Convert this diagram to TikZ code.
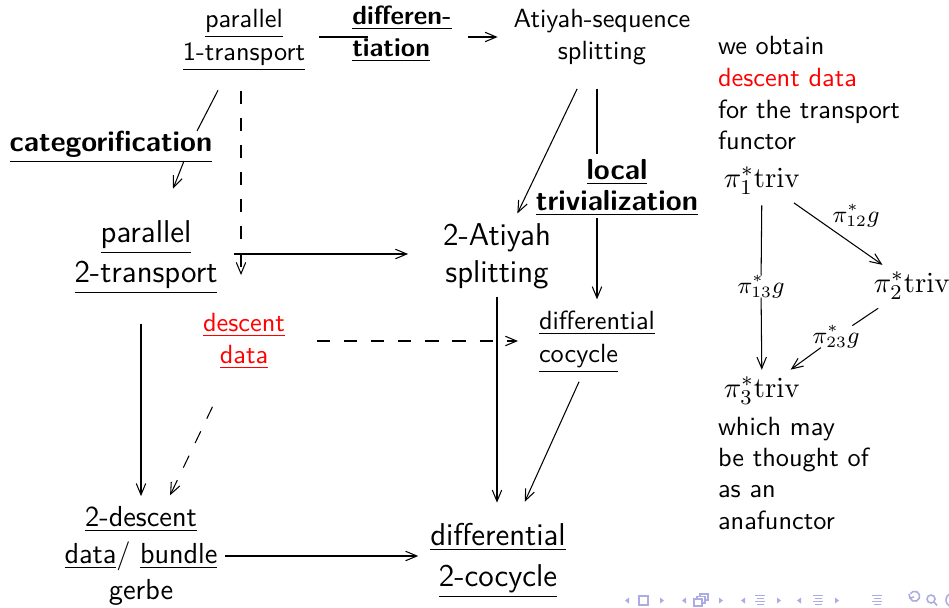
\documentclass[tikz,border=0pt]{standalone}
\usetikzlibrary{arrows.meta}
\newcommand\pxu{0.38pt}
\definecolor{navc}{RGB}{172,172,228}
\begin{document}
\begin{tikzpicture}[x=0.38pt,y=-0.38pt,
  every node/.style={inner sep=0pt,outer sep=0pt,align=center},
  fs/.style 2 args={font=\fontsize{#1}{#2}\selectfont\sffamily},
  arr/.style={-{Straight Barb[length=4.3pt,width=3.6pt]}},
  dsh/.style={dash pattern=on 5pt off 5.3pt},
  sa/.style={shorten <=#1*\pxu},
  sb/.style={shorten >=#1*\pxu},
  line width=0.4pt]
\fill[white] (0,0) rectangle (949,608);
\useasboundingbox (0,0) rectangle (949,608);

% main nodes
\node[fs={10}{12.5}] (p1) at (244,40) {\underline{parallel}\\\underline{1-transport}};
\node[fs={10}{12}, align=left] (diffl) at (402,34) {\underline{\textbf{differen-}}\\\underline{\textbf{tiation}}};
\node[fs={10}{12}] (atiyah) at (602,37) {Atiyah-sequence\\splitting};
\node[fs={11}{13}] (catl) at (111,147) {\underline{\textbf{categorification}}};
\node[fs={12}{15.2}] (p2) at (146,257) {\underline{parallel}\\\underline{2-transport}};
\node[fs={12}{14}] (a2) at (497,256) {2-Atiyah\\splitting};
\node[fs={11}{11.8}] (locl) at (617,188) {\underline{\textbf{local}}\\\underline{\textbf{trivialization}}};
\node[fs={10}{12.2}, text=red] (dd) at (244,341) {\underline{descent}\\\underline{data}};
\node[fs={10}{12.2}, align=left] (dc) at (597,342) {\underline{differential}\\\underline{cocycle}};
\node[fs={11}{14}] (gerbe) at (141,556) {\underline{2-descent}\\\underline{data}/ \underline{bundle}\\gerbe};
\node[fs={12}{15.5}] (dc2) at (498,561) {\underline{differential}\\\underline{2-cocycle}};

% right text
\node[fs={10}{12}, anchor=base west] (t1) at (718,55) {we obtain};
\node[fs={10}{12}, anchor=base west, text=red] (t2) at (718,86) {descent data};
\node[fs={10}{12}, anchor=base west] (t3) at (718,118) {for the transport};
\node[fs={10}{12}, anchor=base west] (t4) at (718,149) {functor};
\node[fs={10}{12}, anchor=base west] (b1) at (718,435) {which may};
\node[fs={10}{12}, anchor=base west] (b2) at (718,466) {be thought of};
\node[fs={10}{12}, anchor=base west] (b3) at (718,497) {as an};
\node[fs={10}{12}, anchor=base west] (b4) at (718,529) {anafunctor};

% small diagram
\node[fs={11}{13}, anchor=base] (pi1) at (762,187) {$\pi_1^*\mathrm{triv}$};
\node[fs={11}{13}, anchor=base] (pi2) at (912,292) {$\pi_2^*\mathrm{triv}$};
\node[fs={11}{13}, anchor=base] (pi3) at (762,397) {$\pi_3^*\mathrm{triv}$};
\node[fs={9}{11}, anchor=base] (l12) at (856,222) {$\pi_{12}^*g$};
\node[fs={9}{11}, anchor=base] (l13) at (761,293) {$\pi_{13}^*g$};
\node[fs={9}{11}, anchor=base] (l23) at (836,343) {$\pi_{23}^*g$};

% connectors
\coordinate (g1) at (368,37);
\coordinate (g2) at (468,37);
\draw[sa=14] (p1.east |- g1) -- (g1);
\draw[arr, sb=16] (g2) -- (atiyah.west |- g2);

\coordinate (cat1) at (197,131);
\coordinate (cat2) at (184,161);
\draw[sa=22] (p1) -- (cat1);
\draw[arr, sb=34] (cat2) -- (p2);

\draw[dsh, arr, sa=20, sb=38] ([xshift=-3*\pxu]p1.south) -- ([xshift=-3*\pxu]dd.north);

\coordinate (h1) at ([yshift=3*\pxu]p2.east);
\draw[arr, sa=17, sb=35] (h1) -- (h1 -| a2.west);

\draw[arr, sa=27, sb=11] (atiyah) -- (a2);
\draw[sa=24, sb=6] (atiyah.south -| dc) -- (locl.north -| dc);
\draw[arr, sa=2, sb=12] (locl.south -| dc) -- (dc.north);

\draw[dsh, arr, sa=32, sb=21] (dd.east) -- (dd.east -| dc.west);
\draw[arr, sa=10, sb=24] (dc) -- (dc2);
\draw[arr, sa=8, sb=21] (a2.south) -- (a2.south |- dc2.north);
\draw[arr, sa=30, sb=10] (gerbe |- p2.south) -- (gerbe.north);
\draw[dsh, arr, sa=42, sb=12] (dd) -- (gerbe);
\draw[arr, sa=8, sb=12] (gerbe.east) -- (gerbe.east -| dc2.west);

\draw[arr, sa=15, sb=12] (pi1) -- (pi2);
\draw[sa=11] (pi1) -- (l13);
\draw[arr, sb=7] (l13) -- (pi3);
\draw[sa=16] (pi2) -- (l23);
\draw[arr, sb=12] (l23) -- (pi3);

% navigation symbols
\foreach \x in {627,684,743,799} \fill[navc] (\x+2,597.5) -- (\x-2,600.5) -- (\x+2,603.5) -- cycle;
\foreach \x in {662,721,779,837} \fill[navc] (\x-2,597.5) -- (\x+2,600.5) -- (\x-2,603.5) -- cycle;
\draw[navc, line width=0.5pt] (639,596) rectangle (648,605);
\draw[navc, line width=0.5pt] (694,599) rectangle (702,606);
\draw[navc, line width=0.5pt] (697,599) -- (697,596.5) -- (705,596.5) -- (705,603) -- (702,603);
\draw[navc, line width=0.5pt] (700,596.5) -- (700,594) -- (708,594) -- (708,600) -- (705,600);
\foreach \x in {760,818,877} {
  \draw[navc, line width=0.5pt] (\x-5,595.5) -- (\x+5,595.5);
  \draw[navc, line width=0.5pt] (\x-3,598.5) -- (\x+4,598.5);
  \draw[navc, line width=0.5pt] (\x-5,601.5) -- (\x+5,601.5);
  \draw[navc, line width=0.5pt] (\x-3,604.5) -- (\x+4,604.5);
}
\draw[navc, line width=0.6pt] (910,598) arc (160:-150:5);
\draw[navc, line width=0.6pt] (909,594) -- (910,598) -- (914,597);
\draw[navc, line width=0.6pt] (931,599) circle (4);
\draw[navc, line width=0.6pt] (934,602) -- (937,605.5);
\draw[navc, line width=0.6pt] (949.5,594) arc (240:120:7);
\end{tikzpicture}
\end{document}
